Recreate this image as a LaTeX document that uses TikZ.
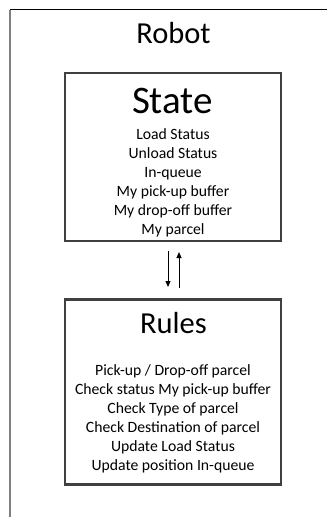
\documentclass[tikz,border=0pt]{standalone}
\usepackage{fontspec}
\setmainfont{Carlito}
\usetikzlibrary{arrows.meta}
\definecolor{boxgray}{HTML}{404040}
\definecolor{framegray}{HTML}{7F7F7F}
\begin{document}
\begin{tikzpicture}[x=1pt,y=-1pt,
  panel/.style={draw=boxgray, line width=2.5pt, minimum width=216pt, inner sep=0pt},
  bigtitle/.style={anchor=base, inner sep=0pt, font=\fontsize{30.5}{36}\selectfont},
  statetitle/.style={anchor=base, inner sep=0pt, font=\fontsize{39}{46}\selectfont},
  itemlist/.style={anchor=base, inner sep=0pt, align=center, font=\fontsize{15.7}{19}\selectfont},
  flow/.style={line width=1pt, -{Triangle[width=5pt,length=6pt]}}
]
\useasboundingbox (0,0) rectangle (327,517);

% outer frame (only top and left edges show)
\coordinate (frametl) at (10,9.5);
\coordinate (frametr) at (327,9.5);
\coordinate (framebl) at (10,517);
\draw[framegray, line width=1.5pt] (frametl) -- (framebl);
\draw[black, line width=1pt] (frametl) -- (frametr);

\node[bigtitle] (robot) at (173.5,43.3) {Robot};

% state panel; item lists are anchored on their last baseline
\node[panel, minimum height=168pt] (state) at (173,157) {};
\node[statetitle] (statehead) at (172.5,113) {State};
\node[itemlist] (stateitems) at (173,234.3) {Load Status\\Unload Status\\In-queue\\My pick-up buffer\\My drop-off buffer\\My parcel};

% rules panel
\node[panel, minimum height=185pt] (rules) at (173,392) {};
\node[bigtitle] (ruleshead) at (173.5,333.3) {Rules};
\node[itemlist] (rulesitems) at (173,470.5) {Pick-up / Drop-off parcel\\Check status My pick-up buffer\\Check Type of parcel\\Check Destination of parcel\\Update Load Status\\Update position In-queue};

% exchange between the panels
\draw[flow, shorten <=8.75pt, shorten >=11.25pt] ([xshift=-5pt]state.south) -- ([xshift=-5pt]rules.north);
\draw[flow, shorten <=10.25pt, shorten >=9.75pt] ([xshift=6pt]rules.north) -- ([xshift=6pt]state.south);
\end{tikzpicture}
\end{document}
